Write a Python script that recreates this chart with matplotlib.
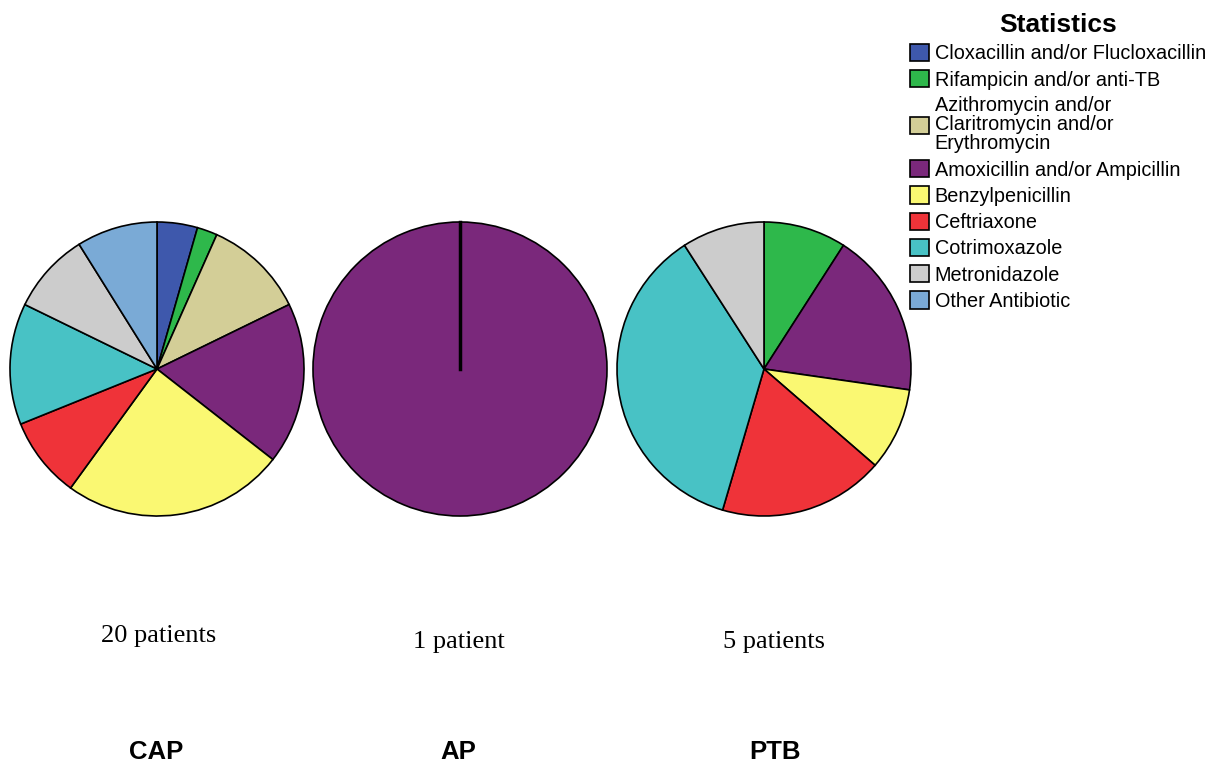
import matplotlib
matplotlib.use("Agg")
import matplotlib.pyplot as plt
from matplotlib.patches import Patch

# antibiotic classes and colours
drugs = ["Cloxacillin and/or Flucloxacillin",
         "Rifampicin and/or anti-TB",
         "Azithromycin and/or\nClaritromycin and/or\nErythromycin",
         "Amoxicillin and/or Ampicillin",
         "Benzylpenicillin",
         "Ceftriaxone",
         "Cotrimoxazole",
         "Metronidazole",
         "Other Antibiotic"]
colors = ["#3E58AC", "#2EB84B", "#D3CE97", "#7A287B", "#FAF872",
          "#EF3339", "#48C2C5", "#CCCCCC", "#7AAAD6"]

# prescriptions per group (same order as drugs)
cap_counts = [2, 1, 5, 8, 11, 4, 6, 4, 4]
ap_counts = [0, 0, 0, 1, 0, 0, 0, 0, 0]
ptb_counts = [0, 1, 0, 2, 1, 2, 4, 1, 0]

groups = ["CAP", "AP", "PTB"]
patients = ["20 patients", "1 patient", "5 patients"]

W, H = 1216, 765
fig = plt.figure(figsize=(W / 100, H / 100), dpi=100)
ax = fig.add_axes([0, 0, 1, 1])

centers = [(157, H - 369), (460, H - 369), (764, H - 369)]
R = 147

for counts, (cx, cy) in zip([cap_counts, ap_counts, ptb_counts], centers):
    vals = [v for v in counts if v > 0]
    cols = [c for v, c in zip(counts, colors) if v > 0]
    ax.pie(vals, colors=cols, center=(cx, cy), radius=R, startangle=90,
           counterclock=False, frame=True,
           wedgeprops=dict(edgecolor="black", linewidth=1.2))
    if len(vals) == 1:
        # single slice: show the seam at 12 o'clock
        ax.plot([cx, cx], [cy, cy + R], color="black", lw=2.5)

ax.set_xlim(0, W)
ax.set_ylim(0, H)
ax.set_aspect("equal")
ax.axis("off")

cap_x = [159, 459, 774]
cap_y = [642, 648, 648]
for x, y, p in zip(cap_x, cap_y, patients):
    ax.text(x, H - y, p, ha="center", va="baseline", fontsize=19,
            family="Liberation Serif")
lab_x = [156, 458, 775]
for x, g in zip(lab_x, groups):
    ax.text(x, H - 759, g, ha="center", va="baseline", fontsize=18.5,
            fontweight="bold", family="Liberation Sans")

handles = [Patch(facecolor=c, edgecolor="black", linewidth=1.2) for c in colors]
leg = fig.legend(handles, drugs, loc="upper left",
                 bbox_to_anchor=(910 / W, 1 - 13 / H), bbox_transform=fig.transFigure,
                 frameon=False, title="Statistics", borderaxespad=0, borderpad=0,
                 prop=dict(family="Liberation Sans", size=14.3),
                 handlelength=0.97, handleheight=0.97, handletextpad=0.27,
                 labelspacing=0.34)
for t in leg.get_texts():
    t.set_linespacing(1.0)
leg.get_title().set_fontweight("bold")
leg.get_title().set_fontsize(19)
leg.get_title().set_family("Liberation Sans")

fig.savefig("out.png", dpi=100)
